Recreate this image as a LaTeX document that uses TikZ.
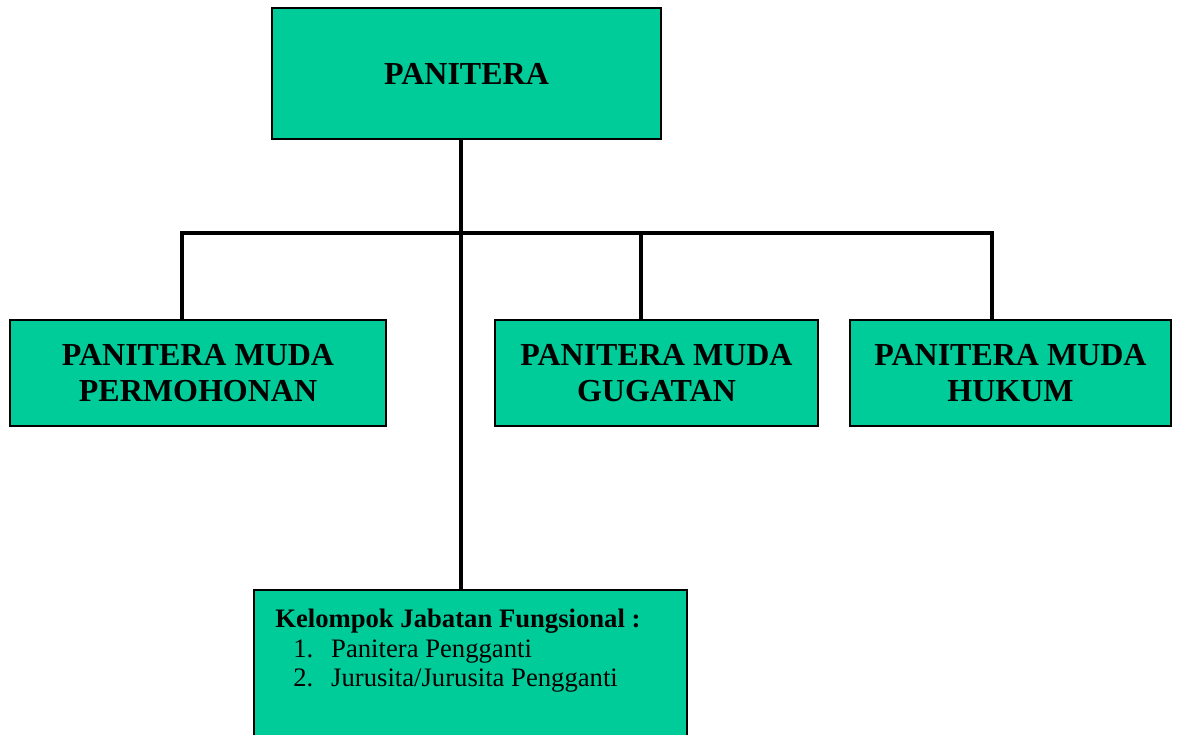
\documentclass[tikz,border=0pt]{standalone}
\usepackage{fontspec}
\setmainfont{Liberation Serif}
\usepackage{tikz}
\definecolor{hijau}{RGB}{0,204,153}

\begin{document}
\begin{tikzpicture}[x=0.75pt, y=-0.75pt]
    \tikzstyle{kotak}=[draw, line width=1.2pt, fill=hijau, align=center, inner sep=0pt]
    \tikzstyle{garis}=[line width=3pt]

    \useasboundingbox (0,0) rectangle (1179,735);
    \clip (0,0) rectangle (1179,735);

    \node[kotak, minimum width=291.75pt, minimum height=98.25pt, font=\fontsize{24}{28}\selectfont\bfseries] (panitera) at (466.5,73.5) {PANITERA};

    \node[kotak, minimum width=282pt, minimum height=79.5pt, font=\fontsize{24}{27}\selectfont\bfseries] (permohonan) at (198,373) {PANITERA MUDA\\PERMOHONAN};
    \node[kotak, minimum width=242.25pt, minimum height=79.5pt, font=\fontsize{24}{27}\selectfont\bfseries] (gugatan) at (656.5,373) {PANITERA MUDA\\GUGATAN};
    \node[kotak, minimum width=240.75pt, minimum height=79.5pt, font=\fontsize{24}{27}\selectfont\bfseries] (hukum) at (1010.5,373) {PANITERA MUDA\\HUKUM};

    \node[kotak, minimum width=324.75pt, minimum height=120pt] (fungsional) at (470.5,670) {};
    \node[anchor=north west, align=left, inner sep=0pt, font=\fontsize{20}{22.1}\selectfont] (daftar) at (275,609)
        {\textbf{Kelompok Jabatan Fungsional :}\\
         \hspace*{13.5pt}\makebox[28.5pt][l]{1.}Panitera Pengganti\\
         \hspace*{13.5pt}\makebox[28.5pt][l]{2.}Jurusita/Jurusita Pengganti};

    % garis hubung
    \coordinate (bus) at (461,233);
    \coordinate (kiri) at (182,233);
    \coordinate (tengah) at (641,233);
    \coordinate (kanan) at (992,233);
    \draw[garis] (panitera.south -| bus) -- (fungsional.north -| bus);
    \draw[garis] (permohonan.north -| kiri) |- (kanan) -- (hukum.north -| kanan);
    \draw[garis] (tengah) -- (gugatan.north -| tengah);
\end{tikzpicture}
\end{document}
